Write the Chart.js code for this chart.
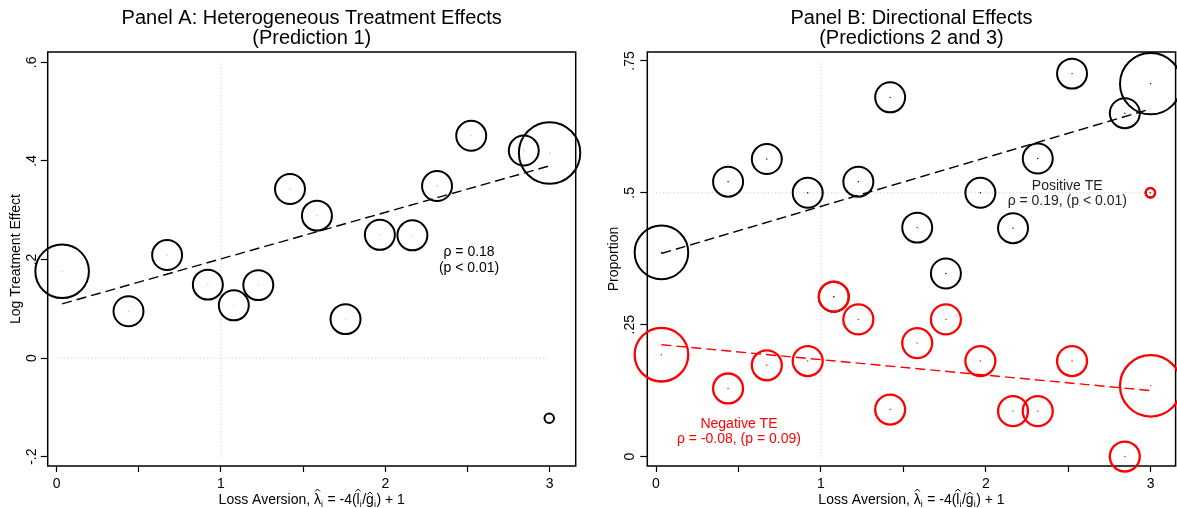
<!DOCTYPE html>
<html lang="en">
<head>
<meta charset="UTF-8">
<title>Loss Aversion and Treatment Effects</title>
<script src="https://cdn.jsdelivr.net/npm/chart.js"></script>
<style>
  html, body { margin: 0; padding: 0; background: #fff; }
  #wrap { position: relative; width: 1177px; height: 508px; }
  #panelA { position: absolute; left: 0; top: 0; }
  #panelB { position: absolute; left: 588px; top: 0; }
</style>
</head>
<body>
<div id="wrap">
  <canvas id="panelA" width="588" height="508"></canvas>
  <canvas id="panelB" width="589" height="508"></canvas>
</div>
<script>
// groups (same 16 groups in both panels)
const lossAversion = [0.033, 0.437, 0.672, 0.92, 1.078, 1.227, 1.42, 1.584, 1.758, 1.967, 2.165, 2.315, 2.523, 2.843, 3.0, 2.998];
const groupSize    = [64, 20, 20, 20, 20, 20, 20, 20, 20, 20, 20, 20, 20, 20, 84, 2];

// Panel A: log treatment effect per group
const logTE = [0.176, 0.095, 0.209, 0.149, 0.107, 0.148, 0.343, 0.289, 0.079, 0.250, 0.249, 0.349, 0.451, 0.421, 0.416, -0.122];
// Panel B: share with positive / negative treatment effect
const propPositive = [0.387, 0.521, 0.564, 0.5, 0.303, 0.521, 0.681, 0.434, 0.347, 0.5, 0.433, 0.565, 0.726, 0.651, 0.707, 0.5];
const propNegative = [0.193, 0.129, 0.173, 0.181, 0.303, 0.260, 0.089, 0.215, 0.260, 0.181, 0.086, 0.086, 0.181, 0.0, 0.134, 0.5];

// fitted lines (end points at min / max loss aversion)
const fitX = [0.033, 3.0];
const fitA = [0.11, 0.39];
const fitPos = [0.385, 0.659];
const fitNeg = [0.212, 0.125];

// ticks
const xTicks = [0, 0.5, 1, 1.5, 2, 2.5, 3];
const xTickLabels = ['0', '', '1', '', '2', '', '3'];
const yTicksA = [-0.2, 0, 0.2, 0.4, 0.6];
const yTickLabelsA = ['-.2', '0', '.2', '.4', '.6'];
const yTicksB = [0, 0.25, 0.5, 0.75];
const yTickLabelsB = ['0', '.25', '.5', '.75'];

// x axis title: Loss Aversion, λ̂_i = -4(l̂_i/ĝ_i) + 1
const xTitleParts = [
  { t: 'Loss Aversion, ' }, { t: '\u03BB', hat: true }, { t: 'i', sub: true },
  { t: ' = -4(' }, { t: 'l', hat: true }, { t: 'i', sub: true },
  { t: '/' }, { t: 'g', hat: true }, { t: 'i', sub: true }, { t: ') + 1' }
];

const RED = '#ff0000';
const FONT = '"Liberation Sans", Arial, Helvetica, sans-serif';
Chart.defaults.font.family = FONT;
Chart.defaults.color = '#000';

const bubbles = (ys) => lossAversion.map((x, i) => ({ x: x, y: ys[i], r: 3.35 * Math.sqrt(groupSize[i]) }));
const dots = (ys) => lossAversion.map((x, i) => ({ x: x, y: ys[i] }));
const seg = (xs, ys) => xs.map((x, i) => ({ x: x, y: ys[i] }));

// box around the plot region
const framePlugin = {
  id: 'frame',
  beforeDatasetsDraw(chart) {
    const { ctx, chartArea: a } = chart;
    ctx.save();
    ctx.strokeStyle = '#000';
    ctx.lineWidth = 1.5;
    ctx.strokeRect(a.left, a.top, a.width, a.height);
    ctx.restore();
  }
};

// text notes placed in data coordinates
const notesPlugin = {
  id: 'notes',
  afterDatasetsDraw(chart, args, opts) {
    const { ctx, scales: { x, y } } = chart;
    ctx.save();
    ctx.font = '14px ' + FONT;
    ctx.textAlign = 'center';
    ctx.textBaseline = 'middle';
    (opts.items || []).forEach(t => {
      ctx.fillStyle = t.color;
      t.lines.forEach((line, i) => ctx.fillText(line, x.getPixelForValue(t.x), y.getPixelForValue(t.y[i])));
    });
    ctx.restore();
  }
};

// x axis title with hats and subscripts, centred under the plot region
const xTitlePlugin = {
  id: 'xTitle',
  afterDraw(chart) {
    const { ctx, chartArea: a } = chart;
    const big = '14px ' + FONT, small = '9px ' + FONT;
    ctx.save();
    ctx.fillStyle = '#000';
    ctx.strokeStyle = '#000';
    ctx.textBaseline = 'alphabetic';
    ctx.textAlign = 'left';
    const widths = xTitleParts.map(p => { ctx.font = p.sub ? small : big; return ctx.measureText(p.t).width + (p.sub ? 0.5 : 0); });
    let x = (a.left + a.right) / 2 - widths.reduce((s, w) => s + w, 0) / 2;
    const base = 504;
    xTitleParts.forEach((p, i) => {
      ctx.font = p.sub ? small : big;
      ctx.fillText(p.t, x, p.sub ? base + 3 : base);
      if (p.hat) {
        const cx = x + widths[i] / 2;
        const top = p.t === 'g' ? base - 12 : base - 15;
        ctx.lineWidth = 1;
        ctx.beginPath();
        ctx.moveTo(cx - 2.5, top + 2.5);
        ctx.lineTo(cx, top);
        ctx.lineTo(cx + 2.5, top + 2.5);
        ctx.stroke();
      }
      x += widths[i];
    });
    ctx.restore();
  }
};

function refLine(pts) {
  return { type: 'line', data: pts, borderColor: '#c4c4c4', borderWidth: 1, borderDash: [1, 2.5],
           pointRadius: 0, order: 20, clip: false };
}
function fitLine(ys, color) {
  return { type: 'line', data: seg(fitX, ys), borderColor: color, borderWidth: 1.4, borderDash: [10, 5],
           pointRadius: 0, order: 0, clip: false };
}
function circles(ys, color, order, width) {
  return { type: 'bubble', data: bubbles(ys), borderColor: color, backgroundColor: 'rgba(0,0,0,0)',
           borderWidth: width, order: order, clip: false };
}
function centers(ys, color, order) {
  return { type: 'scatter', data: dots(ys), backgroundColor: color, pointRadius: 0.7, pointBorderWidth: 0,
           order: order, clip: false };
}

function makePanel(id, p) {
  new Chart(document.getElementById(id), {
    type: 'bubble',
    data: { datasets: p.datasets },
    options: {
      responsive: false,
      animation: false,
      events: [],
      layout: { autoPadding: false, padding: { left: 0, right: p.padRight, top: 0, bottom: 0 } },
      plugins: {
        legend: { display: false },
        tooltip: { enabled: false },
        title: {
          display: true, text: p.title, fullSize: false, color: '#000',
          font: { size: 20, weight: 'normal', lineHeight: 1.0 },
          padding: { top: 8, bottom: 4 }
        },
        notes: { items: p.notes }
      },
      scales: {
        x: {
          type: 'linear', min: p.xMin, max: p.xMax,
          afterBuildTicks: s => { s.ticks = xTicks.map(v => ({ value: v })); },
          afterFit: s => { s.height = 42; },
          ticks: { callback: (v, i) => xTickLabels[i], autoSkip: false, maxRotation: 0,
                   font: { size: 14 }, color: '#000', padding: 3.5 },
          grid: { drawOnChartArea: false, tickLength: 6, tickColor: '#000', tickWidth: 1.2 },
          border: { display: false },
          title: { display: false }
        },
        y: {
          type: 'linear', min: p.yMin, max: p.yMax,
          afterBuildTicks: s => { s.ticks = p.yTicks.map(v => ({ value: v })); },
          afterFit: s => { s.width = p.axisWidth; },
          ticks: { callback: (v, i) => p.yTickLabels[i], autoSkip: false, minRotation: 90, maxRotation: 90,
                   crossAlign: 'center', font: { size: 14 }, color: '#000', padding: 0.5 },
          grid: { drawOnChartArea: false, tickLength: 7, tickColor: '#000', tickWidth: 1.2 },
          border: { display: false },
          title: { display: true, text: p.yTitle, color: '#000', font: { size: 14 },
                   padding: { top: p.yTitlePad, bottom: 0 } }
        }
      }
    },
    plugins: [framePlugin, notesPlugin, xTitlePlugin]
  });
}

makePanel('panelA', {
  title: ['Panel A: Heterogeneous Treatment Effects', '(Prediction 1)'],
  yTitle: 'Log Treatment Effect',
  xMin: -0.0548, xMax: 3.159, yMin: -0.219, yMax: 0.621,
  yTicks: yTicksA, yTickLabels: yTickLabelsA,
  axisWidth: 47.7, padRight: 12.3, yTitlePad: 7.6,
  notes: [{ x: 2.51, y: [0.214, 0.183], lines: ['\u03C1 = 0.18', '(p < 0.01)'], color: '#000' }],
  datasets: [
    refLine(seg([1, 1], [-0.2, 0.6])),
    refLine(seg([0, 3], [0, 0])),
    fitLine(fitA, '#000'),
    circles(logTE, '#000', 2, 2),
    centers(logTE, '#bdbdbd', 1)
  ]
});

makePanel('panelB', {
  title: ['Panel B: Directional Effects', '(Predictions 2 and 3)'],
  yTitle: 'Proportion',
  xMin: -0.0528, xMax: 3.151, yMin: -0.018, yMax: 0.767,
  yTicks: yTicksB, yTickLabels: yTickLabelsB,
  axisWidth: 59.3, padRight: 1.4, yTitlePad: 17.6,
  notes: [
    { x: 2.494, y: [0.513, 0.4835], lines: ['Positive TE', '\u03C1 = 0.19, (p < 0.01)'], color: '#222' },
    { x: 0.503, y: [0.061, 0.0335], lines: ['Negative TE', '\u03C1 = -0.08, (p = 0.09)'], color: RED }
  ],
  datasets: [
    refLine(seg([1, 1], [0, 0.75])),
    refLine(seg([0, 3], [0.5, 0.5])),
    fitLine(fitPos, '#000'),
    fitLine(fitNeg, RED),
    circles(propPositive, '#000', 6, 2),
    centers(propPositive, '#000', 5),
    circles(propNegative, RED, 4, 2.3),
    centers(propNegative, RED, 3)
  ]
});
</script>
</body>
</html>
